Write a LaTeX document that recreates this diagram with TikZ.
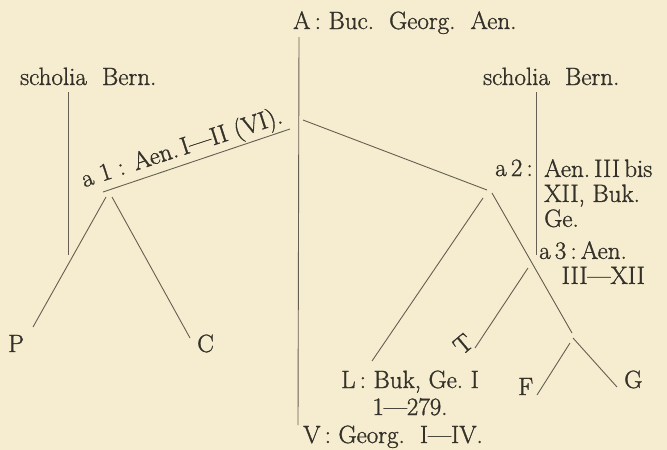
\documentclass[tikz,border=0pt]{standalone}
\usepackage{fontspec}
\setmainfont{Latin Modern Roman}[FakeBold=1.2]
\usepackage{tikz}
\definecolor{paper}{RGB}{246,237,208}
\definecolor{ink}{RGB}{52,49,42}
\definecolor{stroke}{RGB}{100,95,82}
\begin{document}
\begin{tikzpicture}[x=1pt, y=-1pt, font=\fontsize{25}{25}\selectfont,
		every node/.style={inner sep=0pt, text=ink},
		stem/.style={draw=stroke, line width=0.9pt}]
		\fill[paper] (0,0) rectangle (667,450);
		\useasboundingbox (0,0) rectangle (667,450);
		% witnesses and hyparchetypes
		\node[anchor=base west] (A) at (293,29) {A\,:\ Buc.\ \ Georg.\ \ Aen.};
		\node[anchor=base west] (sBl) at (20,85) {scholia\ \ Bern.};
		\node[anchor=base west] (sBr) at (483,85) {scholia\ \ Bern.};
		\node[anchor=base, rotate=18] (a1) at (184,155) {a 1 : Aen.\,I---II (VI).};
		\node[anchor=base east] (a2) at (533,176) {a\,2\,:};
		\node[anchor=north west, align=left] (a2t) at (544,159) {Aen.\,III\,bis\\XII,\ Buk.\\Ge.};
		\node[anchor=north west, align=left] (a3) at (539,241) {a\,3\,:\,Aen.\\\hspace*{0.9em}III---XII};
		\node[anchor=base, align=center, font=\fontsize{25}{27}\selectfont] (L) at (410,415) {L\,: Buk,\ Ge.\ I\\1---279.};
		\node[anchor=base west] (V) at (303,443) {V\,: Georg.\ \ I---IV.};
		\node[anchor=base west] (P) at (8,352) {P};
		\node[anchor=base west] (C) at (197,352) {C};
		\node[rotate=40] (T) at (463,344) {T};
		\node[anchor=base west] (F) at (518,395) {F};
		\node[anchor=base west] (G) at (624,388) {G};
		% branch points
		\coordinate (A-s) at (299,37);
		\coordinate (V-n) at (298,425);
		\coordinate (sBl-s) at (68,92);
		\coordinate (sBl-e) at (68,255);
		\coordinate (sBr-s) at (536,92);
		\coordinate (sBr-e) at (536,255);
		\coordinate (a1-w) at (103,192);
		\coordinate (a1-e) at (290,129);
		\coordinate (A-a2) at (303,120);
		\coordinate (a2-v) at (487,190);
		\coordinate (a1-l) at (106,197);
		\coordinate (a1-r) at (112,197);
		\coordinate (P-ne) at (33,327);
		\coordinate (C-nw) at (190,338);
		\coordinate (a2-l) at (483,198);
		\coordinate (a2-r) at (492,193);
		\coordinate (L-n) at (372,361);
		\coordinate (fg) at (572,333);
		\coordinate (a3-t) at (528,268);
		\coordinate (T-ne) at (475,348);
		\coordinate (fg-l) at (570,343);
		\coordinate (fg-r) at (573,338);
		\coordinate (F-ne) at (537,395);
		\coordinate (G-nw) at (617,387);
		% connectors
		\draw[stem] (A-s) -- (V-n);
		\draw[stem] (sBl-s) -- (sBl-e);
		\draw[stem] (sBr-s) -- (sBr-e);
		\draw[stem] (a1-w) -- (a1-e);
		\draw[stem] (A-a2) -- (a2-v);
		\draw[stem] (a1-l) -- (P-ne);
		\draw[stem] (a1-r) -- (C-nw);
		\draw[stem] (a2-l) -- (L-n);
		\draw[stem] (a2-r) -- (fg);
		\draw[stem] (a3-t) -- (T-ne);
		\draw[stem] (fg-l) -- (F-ne);
		\draw[stem] (fg-r) -- (G-nw);
	\end{tikzpicture}
\end{document}
